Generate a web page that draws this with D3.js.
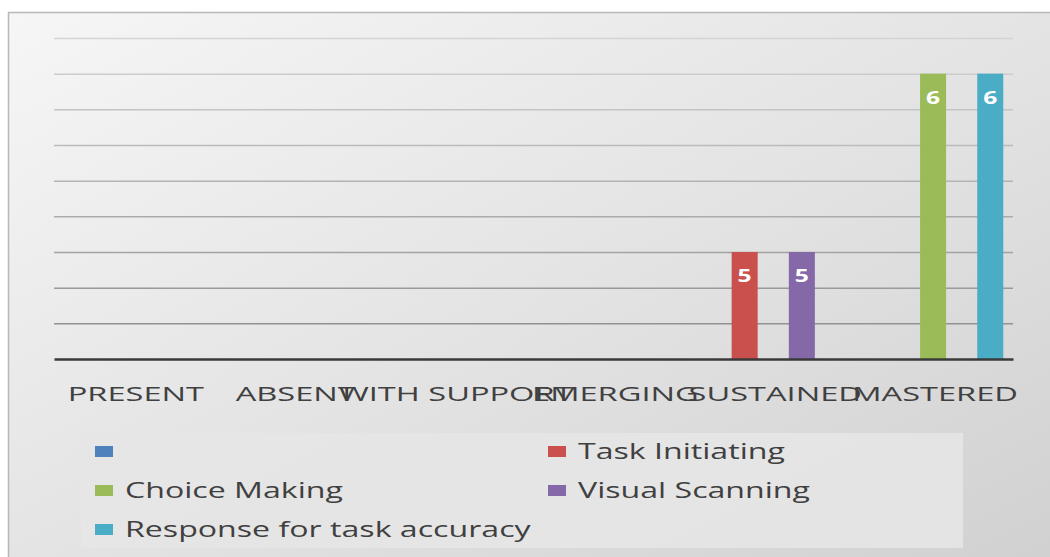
<!DOCTYPE html>
<html>
<head>
<meta charset="utf-8">
<script src="https://cdn.jsdelivr.net/npm/d3@7"></script>
<style>
  html, body { margin: 0; padding: 0; background: #ffffff; }
  svg { display: block; }
</style>
</head>
<body>
<svg id="chart" width="1050" height="557"></svg>
<script>
// Skill levels along the x axis
const categories = ["PRESENT", "ABSENT", "WITH SUPPORT", "EMERGING", "SUSTAINED", "MASTERED"];

// Series names (the first series has no name)
const seriesNames = ["", "Task Initiating", "Choice Making", "Visual Scanning", "Response for task accuracy"];

// Values per series, one entry per category (null = no bar)
const unnamedSeries     = [null, null, null, null, null, null];
const taskInitiating    = [null, null, null, null, 5, null];
const choiceMaking      = [null, null, null, null, null, 6];
const visualScanning    = [null, null, null, null, 5, null];
const responseAccuracy  = [null, null, null, null, null, 6];

// Value axis range (gridlines every 0.2, no tick labels drawn)
const yDomain = [4.4, 6.2];

const seriesValues = [unnamedSeries, taskInitiating, choiceMaking, visualScanning, responseAccuracy];
const seriesColors = ["#4f81bd", "#c9504d", "#9bbb59", "#8568a8", "#4bacc6"];

const svg = d3.select("#chart");
const W = 1050, H = 557;
const FONT = "'Open Sans', sans-serif";

// Background panel with soft gradient
const defs = svg.append("defs");
const bg = defs.append("linearGradient").attr("id", "bgGrad")
  .attr("x1", "0").attr("y1", "0").attr("x2", "1").attr("y2", "1");
bg.append("stop").attr("offset", "0%").attr("stop-color", "#f6f6f6");
bg.append("stop").attr("offset", "55%").attr("stop-color", "#e2e2e2");
bg.append("stop").attr("offset", "100%").attr("stop-color", "#d0d0d0");

svg.append("rect")
  .attr("x", 8.5).attr("y", 12.5).attr("width", W + 10).attr("height", H)
  .attr("fill", "url(#bgGrad)").attr("stroke", "#b8b8b8").attr("stroke-width", 1.5);

const plot = { left: 54, right: 1013, top: 38, bottom: 359 };

const x0 = d3.scaleBand().domain(categories).range([plot.left, plot.right]).padding(0);
const x1 = d3.scaleBand().domain(d3.range(seriesNames.length))
  .range([0, x0.bandwidth()]).paddingInner(0.09).paddingOuter(0.34);
const y = d3.scaleLinear().domain(yDomain).range([plot.bottom, plot.top]);

// Horizontal gridlines, darker toward the bottom
const ticks = y.ticks(10).filter(t => t > yDomain[0] + 1e-9);
const gridShade = d3.scaleLinear().domain([yDomain[1], yDomain[0]]).range(["#d4d4d4", "#8a8a8a"]);
const gridAxis = d3.axisLeft(y).tickValues(ticks).tickSize(-(plot.right - plot.left)).tickFormat("");
const g = svg.append("g").attr("transform", `translate(${plot.left},0)`).call(gridAxis);
g.select(".domain").remove();
g.selectAll(".tick line").attr("stroke", d => gridShade(d)).attr("stroke-width", 1.5);

// Bars
const barData = [];
seriesValues.forEach((vals, si) => {
  vals.forEach((v, ci) => {
    if (v !== null) barData.push({ si, cat: categories[ci], v });
  });
});

svg.append("g").selectAll("rect").data(barData).join("rect")
  .attr("x", d => x0(d.cat) + x1(d.si))
  .attr("width", x1.bandwidth())
  .attr("y", d => y(d.v))
  .attr("height", d => y(yDomain[0]) - y(d.v))
  .attr("fill", d => seriesColors[d.si]);

// Value labels inside the bar tops
svg.append("g").selectAll("text").data(barData).join("text")
  .attr("transform", d => `translate(${x0(d.cat) + x1(d.si) + x1.bandwidth() / 2},${y(d.v) + 30}) scale(1.45,1)`)
  .attr("text-anchor", "middle")
  .attr("font-family", FONT)
  .attr("font-weight", "bold")
  .attr("font-size", 17)
  .attr("fill", "#ffffff")
  .text(d => d.v);

// Baseline axis with wide category labels
const xAxis = d3.axisBottom(x0).tickSize(0).tickPadding(0);
const ax = svg.append("g").attr("transform", `translate(0,${plot.bottom})`).call(xAxis);
ax.select(".domain").attr("stroke", "#3a3a3a").attr("stroke-width", 2.5);
ax.selectAll(".tick text")
  .attr("y", 0)
  .attr("dy", 0)
  .attr("transform", "translate(2,42) scale(1.63,1)")
  .attr("font-family", FONT)
  .attr("font-size", 20)
  .attr("fill", "#404040");

// Legend
const legend = svg.append("g");
legend.append("rect")
  .attr("x", 81).attr("y", 433).attr("width", 882).attr("height", 115)
  .attr("fill", "#e6e6e6").attr("opacity", 0.9);

const legendPos = [
  { x: 95, y: 452 }, { x: 548, y: 452 },
  { x: 95, y: 491 }, { x: 548, y: 491 },
  { x: 95, y: 530 }
];
seriesNames.forEach((name, i) => {
  const p = legendPos[i];
  legend.append("rect")
    .attr("x", p.x).attr("y", p.y - 6).attr("width", 18).attr("height", 11)
    .attr("fill", seriesColors[i]);
  legend.append("text")
    .attr("transform", `translate(${p.x + 30},${p.y + 7}) scale(1.53,1)`)
    .attr("font-family", FONT)
    .attr("font-size", 21)
    .attr("fill", "#404040")
    .text(name);
});
</script>
</body>
</html>
